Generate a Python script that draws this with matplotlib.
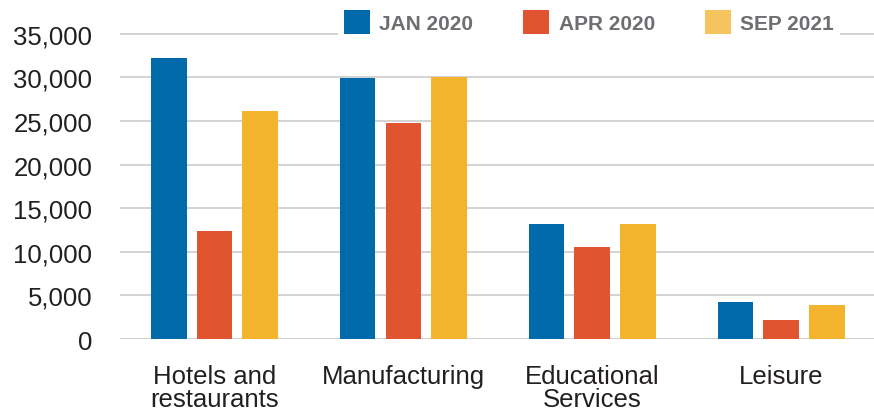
import numpy as np
import matplotlib
matplotlib.use('Agg')
import matplotlib.pyplot as plt
from matplotlib.patches import Patch
from matplotlib.ticker import FuncFormatter

plt.rcParams['font.family'] = ['Liberation Sans', 'DejaVu Sans']

categories = ['Hotels and\nrestaurants', 'Manufacturing', 'Educational\nServices', 'Leisure']
series_names = ['JAN 2020', 'APR 2020', 'SEP 2021']
jan_2020 = [32200, 29900, 13200, 4300]
apr_2020 = [12400, 24800, 10500, 2200]
sep_2021 = [26100, 30000, 13200, 3900]
y_ticks = [0, 5000, 10000, 15000, 20000, 25000, 30000, 35000]

bar_colors = ['#006aab', '#e0542f', '#f3b32c']
legend_colors = ['#006aab', '#e0542f', '#f5c45e']

fig = plt.figure(figsize=(8.74, 4.10), dpi=100)
ax = fig.add_axes([0.1373, 0.1707, 0.8627, 0.766])

x = np.arange(len(categories))
width = 0.19
step = 0.243
for i, vals in enumerate([jan_2020, apr_2020, sep_2021]):
    ax.bar(x + (i - 1) * step, vals, width, color=bar_colors[i], zorder=3)

ax.set_xlim(-0.5, 3.49)
ax.set_ylim(0, 36000)
ax.set_yticks(y_ticks)
ax.yaxis.set_major_formatter(FuncFormatter(lambda v, p: '{:,.0f}'.format(v)))
ax.set_xticks(x)
ax.set_xticklabels(categories, linespacing=0.93)

ax.grid(axis='y', color='#cccccc', linewidth=1.2, zorder=0)
ax.axhline(0, color='#d0d0d0', linewidth=2.2, zorder=2)
for s in ax.spines.values():
    s.set_visible(False)
ax.tick_params(axis='both', length=0, labelsize=18.5, labelcolor='#231f20')
ax.tick_params(axis='y', pad=20)
ax.tick_params(axis='x', pad=18)

handles = [Patch(facecolor=c, edgecolor='none') for c in legend_colors]
leg = fig.legend(handles, series_names, loc='center',
                 bbox_to_anchor=(589 / 874, 387 / 410), ncol=3,
                 frameon=True, fancybox=False, framealpha=1,
                 facecolor='white', edgecolor='none',
                 handlelength=1.25, handleheight=1.45, handletextpad=0.45,
                 columnspacing=2.4, borderpad=0.3,
                 prop={'weight': 'bold', 'size': 15})
for t in leg.get_texts():
    t.set_color('#6d6e71')

fig.savefig('out.png', dpi=100)
